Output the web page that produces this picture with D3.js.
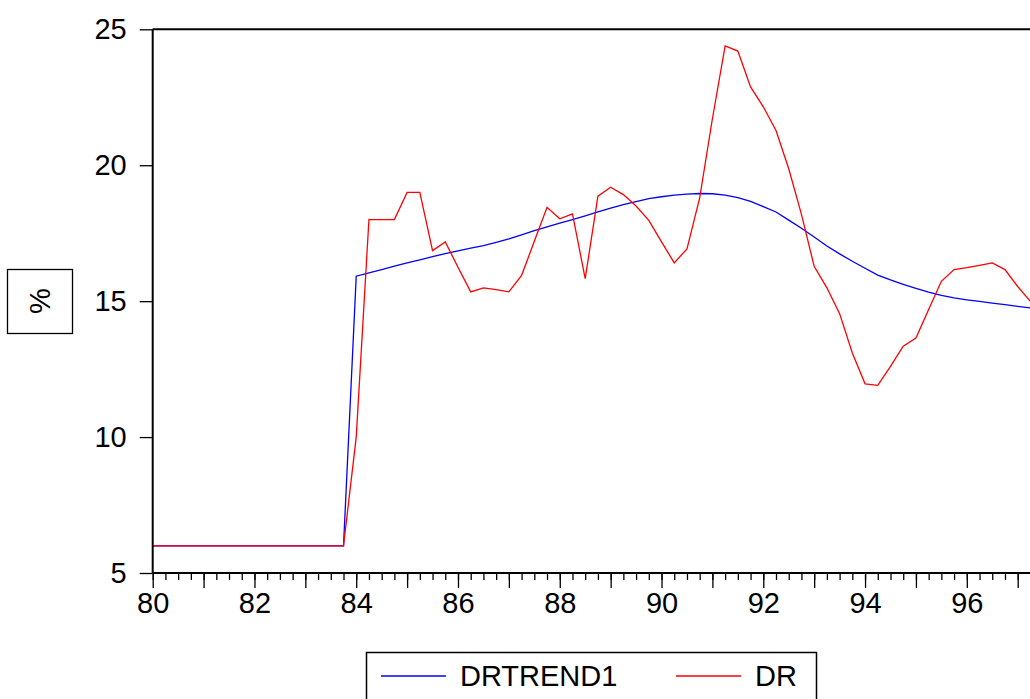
<!DOCTYPE html>
<html>
<head>
<meta charset="utf-8">
<script src="https://cdn.jsdelivr.net/npm/d3@7"></script>
<style>
body { margin: 0; background: #fff; }
text { font-family: "Liberation Sans", Arial, sans-serif; font-size: 29px; fill: #000; }
</style>
</head>
<body>
<script>
// quarterly observations starting 1980Q1
const startYear = 80
const dr = [
    6, 6, 6, 6, 6, 6, 6, 6, 6, 6, 6, 6, 6, 6, 6, 6,
    10.0, 18.0, 18.0, 18.0,
    19.0, 19.0, 16.86, 17.18,
    16.25, 15.34, 15.49, 15.42,
    15.34, 15.95, 17.2, 18.45,
    18.03, 18.21, 15.83, 18.86,
    19.19, 18.92, 18.5, 17.97,
    17.18, 16.41, 16.92, 18.8,
    21.71, 24.39, 24.2, 22.88,
    22.15, 21.28, 19.87, 18.19,
    16.28, 15.49, 14.54, 13.09,
    11.96, 11.9, 12.6, 13.34,
    13.64, 14.69, 15.73, 16.16,
    16.23, 16.32, 16.41, 16.16,
    15.54, 14.99
]
const drtrend1 = [
    6, 6, 6, 6, 6, 6, 6, 6, 6, 6, 6, 6, 6, 6, 6, 6,
    15.92, 16.04, 16.16, 16.29,
    16.41, 16.52, 16.64, 16.75,
    16.85, 16.95, 17.04, 17.16,
    17.29, 17.44, 17.59, 17.73,
    17.87, 18.0, 18.14, 18.28,
    18.42, 18.55, 18.66, 18.77,
    18.84, 18.9, 18.94, 18.96,
    18.95, 18.9, 18.81, 18.67,
    18.48, 18.28, 17.98, 17.68,
    17.36, 17.03, 16.74, 16.47,
    16.21, 15.96, 15.78, 15.62,
    15.47, 15.33, 15.21, 15.12,
    15.05, 14.99, 14.93, 14.87,
    14.81, 14.75
]
const yTicks = [5, 10, 15, 20, 25]
const xLabels = [80, 82, 84, 86, 88, 90, 92, 94, 96]
const seriesNames = ["DRTREND1", "DR"]
const seriesColors = ["#0000ff", "#ff0000"]

let w = 1030
let h = 699
let svg = d3.select("body").append("svg")
    .attr("width", w)
    .attr("height", h)

let xScale = d3.scaleLinear()
    .domain([80, 97])
    .range([152.7, 1017.7])
let yScale = d3.scaleLinear()
    .domain([5, 25])
    .range([573, 29.3])

let left = xScale(80)
let axisY = yScale(5)

svg.append("clipPath").attr("id", "plot")
    .append("rect")
    .attr("x", left).attr("y", yScale(25))
    .attr("width", w - left).attr("height", axisY - yScale(25))

// series
let line = d3.line()
    .x((d, i) => xScale(startYear + i / 4))
    .y(d => yScale(d))
let series = [drtrend1, dr]
svg.selectAll(".series")
    .data(series)
    .enter()
    .append("path")
    .attr("class", "series")
    .attr("clip-path", "url(#plot)")
    .attr("d", d => line(d))
    .attr("fill", "none")
    .attr("stroke", (d, i) => seriesColors[i])
    .attr("stroke-width", 1.3)

// x axis: quarter ticks, year ticks, labels every 2 years
let quarters = d3.range(80, 97.76, 0.25)
let years = d3.range(80, 98, 1)
let minor = svg.append("g")
    .attr("transform", `translate(0,${axisY})`)
    .call(d3.axisBottom(xScale).tickValues(quarters).tickSize(7).tickFormat(""))
let major = svg.append("g")
    .attr("transform", `translate(0,${axisY})`)
    .call(d3.axisBottom(xScale).tickValues(years).tickSize(15).tickFormat(""))
let labels = svg.append("g")
    .attr("transform", `translate(0,${axisY})`)
    .call(d3.axisBottom(xScale).tickValues(xLabels).tickSize(0).tickPadding(19).tickFormat(d3.format("d")))
svg.selectAll("g .domain").remove()
labels.selectAll("text").style("font-size", "29px").style("font-family", null)
svg.selectAll("g .tick line").attr("stroke", "#000").attr("stroke-width", 1.3)

let yAxis = svg.append("g")
    .attr("transform", `translate(${left},0)`)
    .call(d3.axisLeft(yScale).tickValues(yTicks).tickSize(13).tickPadding(13))
yAxis.select(".domain").remove()
yAxis.selectAll("text").style("font-size", "29px").style("font-family", null)
yAxis.selectAll(".tick line").attr("stroke", "#000").attr("stroke-width", 1.3)

// frame lines
svg.append("line")
    .attr("x1", left).attr("x2", w)
    .attr("y1", axisY).attr("y2", axisY)
    .attr("stroke", "#000").attr("stroke-width", 2)
svg.append("line")
    .attr("x1", left).attr("x2", w)
    .attr("y1", yScale(25)).attr("y2", yScale(25))
    .attr("stroke", "#000").attr("stroke-width", 2)
svg.append("line")
    .attr("x1", left).attr("x2", left)
    .attr("y1", yScale(25)).attr("y2", axisY)
    .attr("stroke", "#000").attr("stroke-width", 2)

// unit box
svg.append("rect")
    .attr("x", 7.5).attr("y", 269.5)
    .attr("width", 65).attr("height", 64)
    .attr("fill", "none").attr("stroke", "#000").attr("stroke-width", 1.3)
svg.append("text")
    .attr("transform", "translate(40,301) rotate(-90)")
    .attr("text-anchor", "middle")
    .attr("dominant-baseline", "central")
    .text("%")

// legend
svg.append("rect")
    .attr("x", 366.5).attr("y", 652.5)
    .attr("width", 450).attr("height", 70)
    .attr("fill", "none").attr("stroke", "#000").attr("stroke-width", 1.5)
let item = svg.selectAll(".legend")
    .data(seriesNames)
    .enter()
    .append("g")
    .attr("class", "legend")
    .attr("transform", (d, i) => `translate(${381 + i * 295},676)`)
item.append("line")
    .attr("x1", 0).attr("x2", 65)
    .attr("stroke", (d, i) => seriesColors[i])
    .attr("stroke-width", 1.3)
item.append("text")
    .attr("x", 79)
    .attr("y", 10)
    .text(d => d)
</script>
</body>
</html>
